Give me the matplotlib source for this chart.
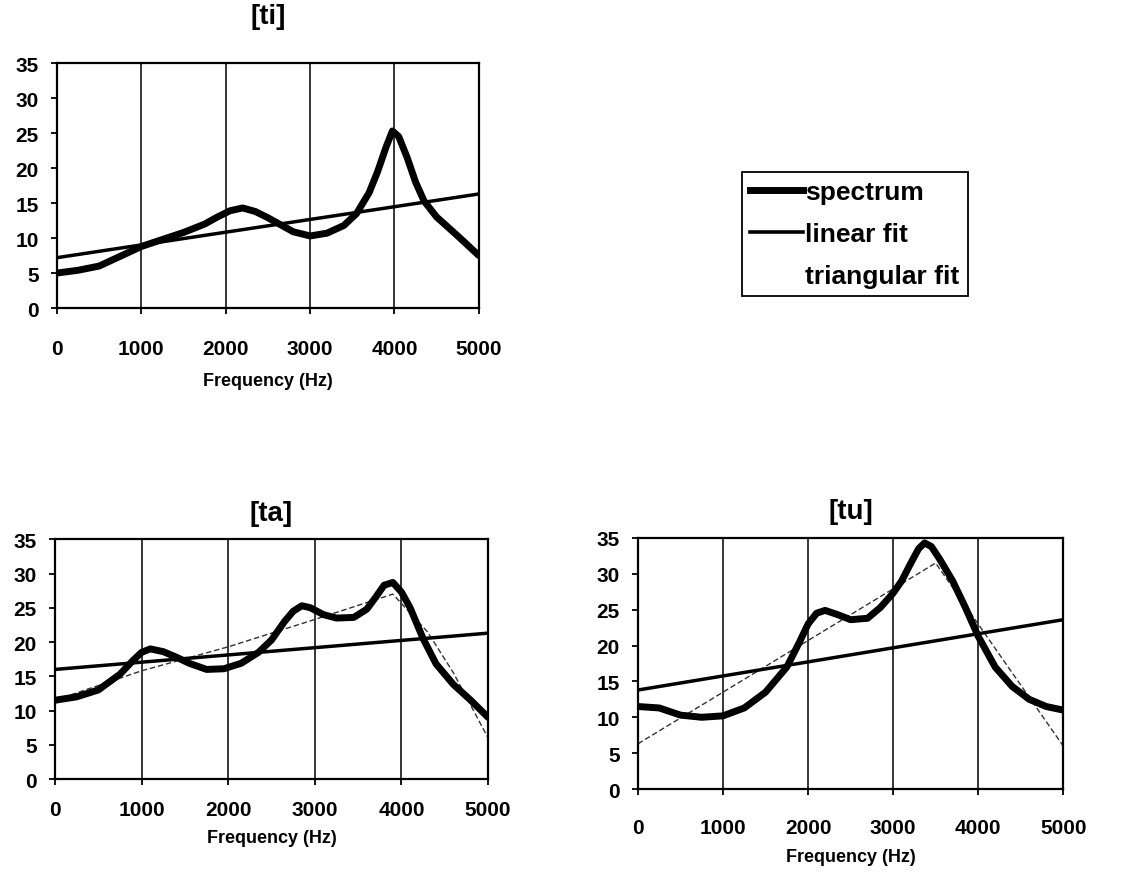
import numpy as np
import matplotlib
matplotlib.use('Agg')
import matplotlib.pyplot as plt
from matplotlib.lines import Line2D

plt.rcParams['font.family'] = ['Liberation Sans', 'DejaVu Sans']
plt.rcParams['font.weight'] = 'bold'

# [ti]
ti_f = [0, 250, 500, 750, 1000, 1250, 1500, 1750, 1900, 2050, 2200, 2350, 2500, 2650, 2800, 3000,
        3200, 3400, 3550, 3700, 3800, 3900, 3975, 4050, 4150, 4250, 4350, 4500, 4750, 5000]
ti_spec = [5.0, 5.4, 6.0, 7.4, 8.8, 9.8, 10.8, 12.0, 13.0, 13.9, 14.3, 13.8, 12.9, 11.9, 10.9, 10.3,
           10.7, 11.8, 13.5, 16.5, 19.5, 23.0, 25.3, 24.5, 21.5, 18.0, 15.3, 13.0, 10.3, 7.5]
ti_lin_f = [0, 5000]
ti_lin = [7.2, 16.3]

# [ta]
ta_f = [0, 250, 500, 750, 900, 1000, 1100, 1250, 1400, 1550, 1750, 1950, 2150, 2350, 2500, 2650,
        2750, 2850, 2950, 3100, 3250, 3450, 3600, 3700, 3800, 3900, 4000, 4100, 4250, 4400, 4600,
        4800, 5000]
ta_spec = [11.5, 12.0, 13.0, 15.3, 17.3, 18.5, 19.0, 18.6, 17.8, 16.9, 16.0, 16.1, 16.9, 18.5, 20.3,
           23.0, 24.5, 25.3, 25.0, 24.0, 23.5, 23.6, 24.8, 26.5, 28.3, 28.7, 27.3, 25.0, 20.5, 16.8,
           13.8, 11.5, 9.0]
ta_lin_f = [0, 5000]
ta_lin = [16.0, 21.3]
ta_tri_f = [0, 1000, 2000, 3000, 3900, 4300, 4600, 5000]
ta_tri = [11.5, 15.8, 19.3, 23.3, 27.0, 21.5, 15.5, 6.0]

# [tu]
tu_f = [0, 250, 500, 750, 1000, 1250, 1500, 1750, 1900, 2000, 2100, 2200, 2350, 2500, 2700, 2850,
        3000, 3100, 3200, 3300, 3370, 3450, 3550, 3700, 3850, 4000, 4200, 4400, 4600, 4800, 5000]
tu_spec = [11.5, 11.3, 10.3, 10.0, 10.2, 11.3, 13.5, 17.0, 20.5, 23.0, 24.5, 24.9, 24.3, 23.6, 23.8,
           25.3, 27.3, 29.0, 31.3, 33.5, 34.3, 33.8, 32.0, 29.0, 25.3, 21.3, 17.0, 14.3, 12.5,
           11.5, 11.0]
tu_lin_f = [0, 5000]
tu_lin = [13.8, 23.6]
tu_tri_f = [0, 3500, 5000]
tu_tri = [6.3, 31.5, 6.0]

xticks = [0, 1000, 2000, 3000, 4000, 5000]
yticks = [0, 5, 10, 15, 20, 25, 30, 35]

fig = plt.figure(figsize=(11.22, 8.78), dpi=100)


def panel(rect, title, f, spec, lin_f, lin, tri_f=None, tri=None, xpad=20, tpad=24, lpad=12):
    ax = fig.add_axes(rect)
    for g in xticks[1:-1]:
        ax.axvline(g, color='black', lw=1.1, zorder=1)
    if tri is not None:
        ax.plot(tri_f, tri, color='0.2', lw=1.0, ls=(0, (4, 2)), zorder=2)
    ax.plot(lin_f, lin, color='black', lw=2.5, zorder=3)
    ax.plot(f, spec, color='black', lw=5, solid_capstyle='round', solid_joinstyle='round', zorder=4)
    ax.set_xlim(0, 5000)
    ax.set_ylim(0, 35)
    ax.set_xticks(xticks)
    ax.set_yticks(yticks)
    ax.tick_params(axis='x', length=4, width=1.3, pad=xpad, labelsize=15)
    ax.tick_params(axis='y', length=4, width=1.3, pad=9, labelsize=15)
    for s in ax.spines.values():
        s.set_linewidth(1.6)
    ax.set_xlabel('Frequency (Hz)', fontsize=13, fontweight='bold', labelpad=lpad)
    ax.set_title(title, fontsize=20, fontweight='bold', pad=tpad)
    return ax


panel([0.0508, 0.648, 0.376, 0.279], '[ti]', ti_f, ti_spec, ti_lin_f, ti_lin,
      xpad=18, tpad=29, lpad=10)
panel([0.049, 0.1116, 0.386, 0.273], '[ta]', ta_f, ta_spec, ta_lin_f, ta_lin, ta_tri_f, ta_tri,
      xpad=11, tpad=14, lpad=7)
panel([0.5686, 0.1002, 0.379, 0.286], '[tu]', tu_f, tu_spec, tu_lin_f, tu_lin, tu_tri_f, tu_tri,
      xpad=17, tpad=14, lpad=8)

handles = [Line2D([], [], color='black', lw=5),
           Line2D([], [], color='black', lw=2.6),
           Line2D([], [], color='white', lw=1.0, ls='--')]
leg = fig.legend(handles, ['spectrum', 'linear fit', 'triangular fit'],
                 loc='upper left', bbox_to_anchor=(742 / 1122, 1 - 173 / 878),
                 prop={'size': 19, 'weight': 'bold'}, handlelength=2.0, handletextpad=0.1,
                 labelspacing=0.68, borderpad=0.3, borderaxespad=0, fancybox=False, framealpha=1)
leg.get_frame().set_edgecolor('black')
leg.get_frame().set_linewidth(1.3)

fig.savefig('out.png', dpi=100)
